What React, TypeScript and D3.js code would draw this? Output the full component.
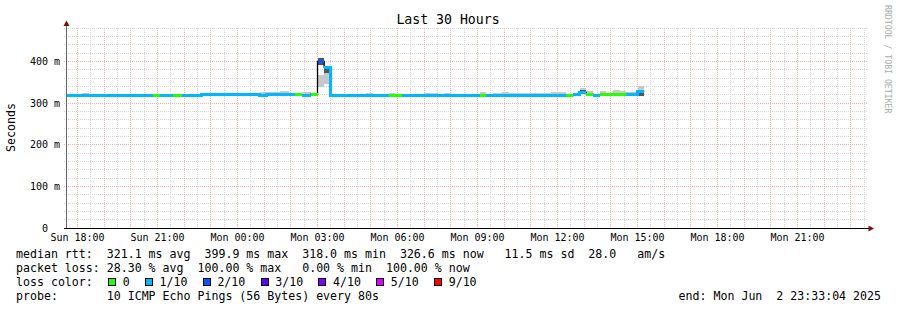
import React from 'react';
import * as d3 from 'd3';

const W = 897;
const H = 310;

const title = 'Last 30 Hours';
const yAxisTitle = 'Seconds';
const watermark = 'RRDTOOL / TOBI OETIKER';

// visible time window
const viewEnd = 'Mon 23:36:22';
const viewHours = 30;

// y axis (milliseconds)
const yMax = 480;
const yMajorStep = 100;
const yMinorStep = 20;

// data: runs of consolidated samples (start time of each run)
const segStart = [
  'Sun 17:30', 'Sun 18:10', 'Sun 18:25', 'Sun 20:50', 'Sun 21:05', 'Sun 21:35', 'Sun 21:55', 'Sun 22:10', 'Sun 22:25', 'Sun 22:40',
  'Sun 23:45', 'Mon 00:35', 'Mon 00:50', 'Mon 01:05', 'Mon 01:35', 'Mon 01:55', 'Mon 02:10', 'Mon 02:25', 'Mon 02:45', 'Mon 03:00',
  'Mon 03:15', 'Mon 03:30', 'Mon 04:50', 'Mon 05:05', 'Mon 05:40', 'Mon 05:55', 'Mon 06:10', 'Mon 07:00', 'Mon 07:30', 'Mon 07:45',
  'Mon 08:00', 'Mon 09:05', 'Mon 09:20', 'Mon 09:35', 'Mon 09:55', 'Mon 10:10', 'Mon 11:45', 'Mon 12:05', 'Mon 12:20', 'Mon 12:35',
  'Mon 12:50', 'Mon 13:05', 'Mon 13:20', 'Mon 13:35', 'Mon 13:50', 'Mon 14:05', 'Mon 14:20', 'Mon 14:35', 'Mon 15:00',
];
const dataEnd = 'Mon 15:15';

const medianMs = [
  318.2, 318.2, 318.2, 318.2, 318.2, 318.2, 318.2, 318.2, 318.2, 319.8,
  319.8, 319.8, 317.8, 319.8, 319.8, 319.8, 319.8, 319.2, 321.0, 399.9,
  386.0, 318.7, 318.7, 318.7, 318.7, 318.7, 318.7, 318.7, 318.7, 318.7,
  318.7, 318.7, 318.7, 318.7, 318.7, 318.7, 318.7, 318.7, 318.0, 319.8,
  325.2, 321.0, 319.2, 319.7, 319.5, 319.5, 319.5, 319.5, 327.6,
];

// lost pings out of 10
const lossCount = [
  1, 1, 1, 0, 1, 0, 1, 1, 1, 1,
  1, 1, 1, 1, 1, 1, 0, 1, 0, 2,
  1, 1, 1, 1, 0, 0, 1, 1, 1, 1,
  1, 0, 1, 1, 1, 1, 1, 1, 0, 1,
  1, 0, 1, 0, 0, 0, 0, 1, 1,
];

// smoke (light) range; null low = from median, null high = no smoke
const smokeLo: (number | null)[] = [
  null, null, null, null, null, null, null, null, null, null,
  null, null, null, null, null, null, null, null, null, 338,
  345, null, null, null, null, null, null, null, null, null,
  null, null, null, null, null, null, null, null, null, null,
  null, null, null, null, null, null, null, null, 316,
];
const smokeHi: (number | null)[] = [
  null, 325, null, null, null, null, 321.6, null, 321.6, 324,
  null, 325, 326.4, 326.4, 329, null, null, 326, null, 367,
  373, null, 324, null, 324, null, null, 324, null, 324,
  null, 326, null, 324, 326, 324, 326, 325.6, null, null,
  336.7, 329.5, null, 328, null, 331, 328, 327, 340,
];
// dense smoke (dark) range
const darkLo: (number | null)[] = [
  null, null, null, null, null, null, null, null, null, null,
  null, null, null, null, null, null, null, null, null, 391,
  373, null, null, null, null, null, null, null, null, null,
  null, null, null, null, null, null, null, null, null, null,
  326, null, null, null, null, null, null, null, 318,
];
const darkHi: (number | null)[] = [
  null, null, null, null, null, null, null, null, null, null,
  null, null, null, null, null, null, null, null, null, 407,
  389, null, null, null, null, null, null, null, null, null,
  null, null, null, null, null, null, null, null, null, null,
  330.5, null, null, null, null, null, null, null, 325,
];

const lossLabels = ['0', '1/10', '2/10', '3/10', '4/10', '5/10', '9/10'];
const lossColors = ['#26ff00', '#00b8ff', '#0059ff', '#5e00ff', '#7e00ff', '#dd00ff', '#ff0000'];

const statsLine = 'median rtt:  321.1 ms avg  399.9 ms max  318.0 ms min  326.6 ms now   11.5 ms sd  28.0   am/s';
const lossLine = 'packet loss: 28.30 % avg  100.00 % max   0.00 % min  100.00 % now';
const lossTitle = 'loss color:';
const probeLine = 'probe:       10 ICMP Echo Pings (56 Bytes) every 80s';
const endLine = 'end: Mon Jun  2 23:33:04 2025';

const parseT = (s: string) => {
  const [day, hm] = s.split(' ');
  const [h, m, sec] = hm.split(':').map(Number);
  return new Date(Date.UTC(2025, 5, day === 'Sun' ? 1 : 2, h, m, sec || 0));
};

const FONT = '"DejaVu Sans Mono", monospace';
const L = 67;
const R = 867;
const T = 28;
const B = 228;

const lossIndex = (c: number) => (c <= 5 ? c : 6);

const Pre = (props: any) => <text xmlSpace="preserve" style={{ whiteSpace: 'pre' }} {...props} />;

export default function App() {
  const end = parseT(viewEnd);
  const start = new Date(end.getTime() - viewHours * 3600e3);
  const x = d3.scaleUtc().domain([start, end]).range([L, R]);
  const y = d3.scaleLinear().domain([0, yMax]).range([B, T]);

  const crisp = (v: number) => Math.floor(v) + 0.5;

  const minorX = x.ticks(d3.utcMinute.every(30)!).filter((d) => d.getUTCMinutes() !== 0);
  const majorX = x.ticks(d3.utcHour.every(1)!);
  const labelX = x.ticks(d3.utcHour.every(3)!);
  const fmt = d3.utcFormat('%a %H:%M');

  const yMinor = d3.range(yMinorStep, yMax + 0.001, yMinorStep).filter((v) => v % yMajorStep !== 0);
  const yMajor = d3.range(yMajorStep, yMax + 0.001, yMajorStep);
  const yLabels = d3.range(0, yMax, yMajorStep);

  const segs = segStart.map((s, i) => {
    const t0 = parseT(s);
    const t1 = parseT(i + 1 < segStart.length ? segStart[i + 1] : dataEnd);
    return {
      x0: Math.max(L, x(t0)),
      x1: x(t1),
      med: medianMs[i],
      color: lossColors[lossIndex(lossCount[i])],
      sLo: smokeLo[i] ?? medianMs[i],
      sHi: smokeHi[i],
      dLo: darkLo[i],
      dHi: darkHi[i],
    };
  });

  const stepPts: [number, number][] = [];
  segs.forEach((s) => {
    stepPts.push([s.x0, y(s.med)]);
  });
  stepPts.push([segs[segs.length - 1].x1, y(segs[segs.length - 1].med)]);
  const stepPath = d3.line().curve(d3.curveStepAfter)(stepPts) || '';

  // legend boxes
  const charW = 6.98;
  const boxes: { bx: number; label: string; color: string }[] = [];
  let bx = 108;
  lossLabels.forEach((lab, i) => {
    boxes.push({ bx, label: lab, color: lossColors[i] });
    bx += 14.7 + lab.length * charW + 15.2;
  });

  return (
    <svg
      width={W}
      height={H}
      viewBox={`0 0 ${W} ${H}`}
      style={{ position: 'absolute', left: 0, top: 0, background: '#fff' }}
      fontFamily={FONT}
    >
      <rect x={0} y={0} width={W} height={H} fill="#ffffff" />
      {/* minor grid */}
      <g stroke="#d2d2d2" strokeWidth={1} strokeDasharray="1 1" shapeRendering="crispEdges">
        {minorX.map((d, i) => (
          <line key={'mx' + i} x1={crisp(x(d))} x2={crisp(x(d))} y1={T} y2={B} />
        ))}
        {yMinor.map((v, i) => (
          <line key={'my' + i} x1={L - 3} x2={R} y1={crisp(y(v))} y2={crisp(y(v))} />
        ))}
      </g>
      {/* major grid */}
      <g stroke="#f4b0b0" strokeWidth={1} strokeDasharray="1 1" shapeRendering="crispEdges">
        {majorX.map((d, i) => (
          <line key={'Mx' + i} x1={crisp(x(d))} x2={crisp(x(d))} y1={T} y2={B} />
        ))}
        {yMajor.map((v, i) => (
          <line key={'My' + i} x1={L - 3} x2={R} y1={crisp(y(v))} y2={crisp(y(v))} />
        ))}
      </g>

      {/* smoke */}
      <g shapeRendering="crispEdges">
        {segs.map((s, i) =>
          s.sHi != null ? (
            <rect
              key={'s' + i}
              x={s.x0}
              width={s.x1 - s.x0}
              y={y(s.sHi)}
              height={Math.max(0, y(s.sLo) - y(s.sHi))}
              fill="#c8c8c8"
            />
          ) : null
        )}
        {segs.map((s, i) =>
          s.dHi != null && s.dLo != null ? (
            <rect
              key={'d' + i}
              x={s.x0}
              width={s.x1 - s.x0}
              y={y(s.dHi)}
              height={Math.max(0, y(s.dLo) - y(s.dHi))}
              fill="#555555"
            />
          ) : null
        )}
      </g>

      {/* median step line */}
      <path d={stepPath} fill="none" stroke="#000" strokeWidth={1.3} />

      {/* loss-coloured median */}
      <g shapeRendering="crispEdges">
        {segs.map((s, i) => (
          <rect key={'m' + i} x={s.x0} width={s.x1 - s.x0} y={y(s.med) - 1.5} height={3} fill={s.color} />
        ))}
        {segs.map((s, i) => {
          if (i === 0) return null;
          const p = segs[i - 1];
          if (p.color !== s.color) return null;
          const ya = Math.min(y(p.med), y(s.med));
          const yb = Math.max(y(p.med), y(s.med));
          if (yb - ya < 0.5) return null;
          return <rect key={'v' + i} x={s.x0 - 1.5} width={3} y={ya - 1.5} height={yb - ya + 3} fill={s.color} />;
        })}
      </g>

      {/* axes */}
      <line x1={66.5} x2={66.5} y1={B} y2={24} stroke="#666" strokeWidth={1} shapeRendering="crispEdges" />
      <path d="M66.5,20.5 L63.5,26 L69.5,26 Z" fill="#7f1010" />
      <line x1={L - 3} x2={870} y1={228.5} y2={228.5} stroke="#000" strokeWidth={1} shapeRendering="crispEdges" />
      <path d="M874,228.5 L868.5,225.5 L868.5,231.5 Z" fill="#7f1010" />

      {/* y labels */}
      <g fontSize={10} fill="#000" textAnchor="end">
        {yLabels.map((v) => (
          <Pre key={'yl' + v} x={60} y={y(v) + 3.5}>
            {v === 0 ? '0  ' : `${v} m`}
          </Pre>
        ))}
      </g>
      {/* x labels */}
      <g fontSize={10} fill="#000" textAnchor="middle">
        {labelX.map((d, i) => (
          <text key={'xl' + i} x={x(d)} y={240.5}>
            {fmt(d)}
          </text>
        ))}
      </g>

      {/* titles */}
      <text x={448} y={24} fontSize={13.2} textAnchor="middle" fill="#000">
        {title}
      </text>
      <text transform="translate(15,127.5) rotate(-90)" fontSize={11.6} textAnchor="middle" fill="#000">
        {yAxisTitle}
      </text>
      <text transform="translate(885,5) rotate(90)" fontSize={8.2} fill="#aaaaaa">
        {watermark}
      </text>

      {/* legend */}
      <g fontSize={11.6} fill="#000">
        <Pre x={16} y={258}>{statsLine}</Pre>
        <Pre x={16} y={272}>{lossLine}</Pre>
        <Pre x={16} y={286}>{lossTitle}</Pre>
        <Pre x={16} y={300}>{probeLine}</Pre>
        <Pre x={881} y={300} textAnchor="end">{endLine}</Pre>
        {boxes.map((b, i) => (
          <g key={'lb' + i}>
            <rect x={b.bx + 0.5} y={278.5} width={7} height={7} fill={b.color} stroke="#000" strokeWidth={1} shapeRendering="crispEdges" />
            <text x={b.bx + 14.7} y={286}>{b.label}</text>
          </g>
        ))}
      </g>
    </svg>
  );
}
